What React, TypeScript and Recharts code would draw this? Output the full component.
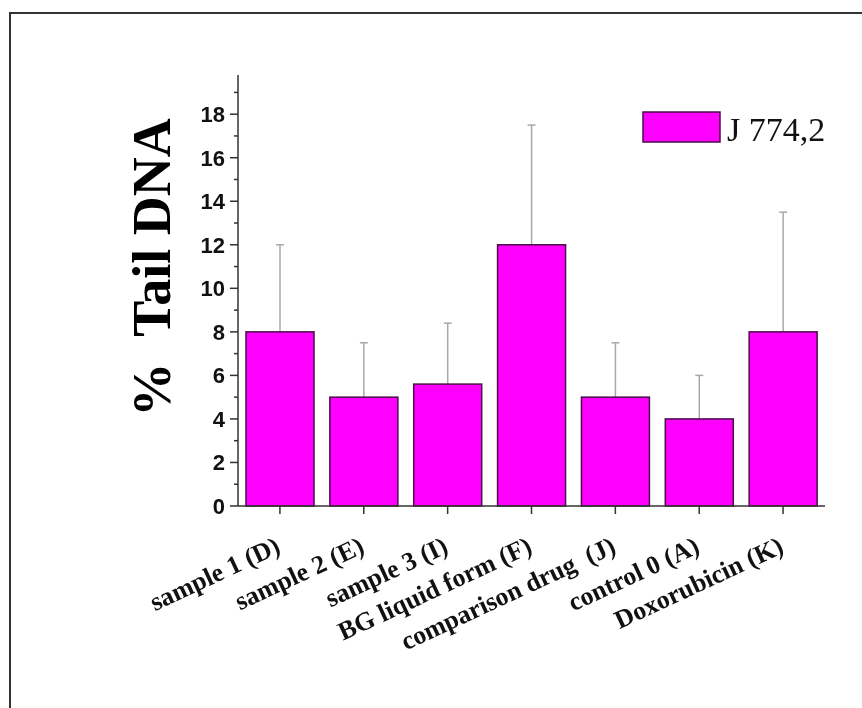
import { BarChart, Bar, XAxis, YAxis, Legend, Label } from "recharts";

const categories = [
  "sample 1 (D)",
  "sample 2 (E)",
  "sample 3 (I)",
  "BG liquid form (F)",
  "comparison drug  (J)",
  "control 0 (A)",
  "Doxorubicin (K)",
];
const seriesName = "J 774,2";
const tailDna = [8, 5, 5.6, 12, 5, 4, 8];
const upperError = [4, 2.5, 2.8, 5.5, 2.5, 2, 5.5];
const yTicks = [0, 1, 2, 3, 4, 5, 6, 7, 8, 9, 10, 11, 12, 13, 14, 15, 16, 17, 18, 19];

const data = categories.map((name, i) => ({
  name,
  value: tailDna[i],
  err: upperError[i],
}));

const serif = '"Liberation Serif", "Times New Roman", serif';
const sans = '"Liberation Sans", Arial, sans-serif';
const axisColor = "#333";

function YTick(props: any) {
  const { x, y, payload } = props;
  const major = payload.value % 2 === 0;
  return (
    <g>
      <line x1={x - (major ? 8 : 4)} x2={x} y1={y} y2={y} stroke={axisColor} strokeWidth={1.5} />
      {major && (
        <text
          x={x - 13}
          y={y}
          dy="0.36em"
          textAnchor="end"
          fontFamily={sans}
          fontWeight="bold"
          fontSize={22}
          fill="#111"
        >
          {payload.value}
        </text>
      )}
    </g>
  );
}

function XTick(props: any) {
  const { x, y, payload } = props;
  const tx = x + 2;
  const ty = y + 46;
  return (
    <g>
      <line x1={x} x2={x} y1={y} y2={y + 8} stroke={axisColor} strokeWidth={1.5} />
      <text
        x={tx}
        y={ty}
        textAnchor="end"
        transform={`rotate(-25, ${tx}, ${ty})`}
        fontFamily={serif}
        fontWeight="bold"
        fontSize={26}
        fill="#111"
        style={{ whiteSpace: "pre" }}
      >
        {payload.value}
      </text>
    </g>
  );
}

function YLabel(props: any) {
  const vb = props.viewBox;
  const x = vb.x + 52;
  const y = vb.y + vb.height / 2 - 23;
  return (
    <text
      x={x}
      y={y}
      textAnchor="middle"
      transform={`rotate(-90, ${x}, ${y})`}
      fontFamily={serif}
      fontWeight="bold"
      fontSize={54}
      fill="#000"
      style={{ whiteSpace: "pre" }}
    >
      %  Tail DNA
    </text>
  );
}

// bar with upper error whisker; whisker length scaled from the bar's own pixel height
function BarWithError(props: any) {
  const { x, y, width, height, value, payload } = props;
  const perUnit = value ? height / value : 0;
  const cx = x + width / 2;
  const top = y - payload.err * perUnit;
  return (
    <g>
      <line x1={cx} x2={cx} y1={y} y2={top} stroke="#a8a8a8" strokeWidth={1.5} />
      <line x1={cx - 4} x2={cx + 4} y1={top} y2={top} stroke="#a8a8a8" strokeWidth={1.5} />
      <rect x={x} y={y} width={width} height={height} fill="#ff00ff" stroke="#4a0d4a" strokeWidth={1.5} />
    </g>
  );
}

function LegendBox(props: any) {
  const item = props.payload && props.payload[0];
  return (
    <svg width={220} height={50}>
      <rect x={2} y={4} width={77} height={30} fill="#ff00ff" stroke="#4a0d4a" strokeWidth={1.5} />
      <text x={86} y={33} fontFamily={serif} fontSize={34} fill="#111">
        {item ? item.value : seriesName}
      </text>
    </svg>
  );
}

export default function App() {
  return (
    <div style={{ position: "relative", width: 846, height: 692 }}>
      <div
        style={{
          position: "fixed",
          left: 9,
          top: 12,
          right: 0,
          bottom: 0,
          borderLeft: "2px solid #333",
          borderTop: "2px solid #333",
        }}
      />
      <BarChart
        width={846}
        height={692}
        data={data}
        margin={{ top: 67, right: 29, left: 110, bottom: 44 }}
      >
        <XAxis
          dataKey="name"
          height={150}
          interval={0}
          tick={<XTick />}
          tickSize={0}
          tickMargin={0}
          tickLine={false}
          axisLine={{ stroke: axisColor, strokeWidth: 1.5 }}
        />
        <YAxis
          width={120}
          domain={[0, 19.8]}
          ticks={yTicks}
          interval={0}
          tick={<YTick />}
          tickSize={0}
          tickMargin={0}
          tickLine={false}
          axisLine={{ stroke: axisColor, strokeWidth: 1.5 }}
        >
          <Label content={<YLabel />} />
        </YAxis>
        <Legend
          layout="horizontal"
          verticalAlign="middle"
          align="center"
          content={<LegendBox />}
          wrapperStyle={{ position: "absolute", left: 633, top: 100, width: 220 }}
        />
        <Bar
          dataKey="value"
          name={seriesName}
          fill="#ff00ff"
          stroke="#4a0d4a"
          strokeWidth={1.5}
          barSize={68}
          shape={<BarWithError />}
          isAnimationActive={false}
        />
      </BarChart>
    </div>
  );
}
